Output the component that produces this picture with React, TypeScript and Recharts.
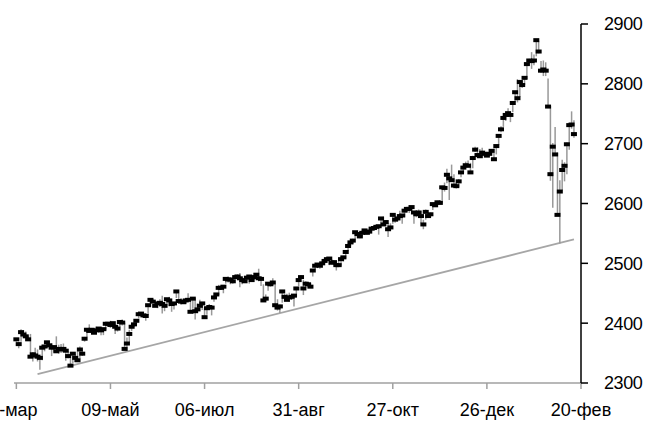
import { ComposedChart, XAxis, YAxis, Scatter, Line, ErrorBar } from "recharts";

// daily closes, 13-мар-2017 .. 20-фев-2018 (one trading day per index)
const closes = [
  // мар
  2373, 2365, 2385, 2381, 2378, 2373, 2344, 2348, 2346, 2344, 2342, 2359, 2361, 2368, 2363,
  // апр
  2359, 2360, 2353, 2357, 2356, 2357, 2354, 2345, 2329, 2349, 2342, 2338, 2356, 2349, 2374,
  2389, 2387, 2389, 2384,
  // май
  2388, 2391, 2388, 2390, 2399, 2399, 2397, 2400, 2394, 2391, 2402, 2401, 2357, 2366, 2382,
  2394, 2398, 2404, 2415, 2416, 2413, 2412,
  // июн
  2430, 2439, 2436, 2429, 2433, 2434, 2432, 2429, 2440, 2438, 2432, 2433, 2453, 2437, 2436,
  2435, 2438, 2439, 2419, 2441, 2420, 2423,
  // июл
  2429, 2433, 2410, 2425, 2427, 2426, 2443, 2448, 2459, 2459, 2461, 2474, 2473, 2473, 2470,
  2477, 2478, 2475, 2472, 2470,
  // авг
  2476, 2478, 2472, 2477, 2481, 2475, 2474, 2438, 2441, 2466, 2465, 2468, 2430, 2426, 2428,
  2453, 2444, 2439, 2443, 2444, 2446, 2458, 2472,
  // сен
  2477, 2458, 2466, 2465, 2461, 2488, 2496, 2498, 2496, 2500, 2504, 2507, 2508, 2501, 2502,
  2497, 2497, 2507, 2510, 2519,
  // окт
  2529, 2535, 2538, 2552, 2549, 2545, 2551, 2555, 2551, 2553, 2558, 2559, 2561, 2562, 2575,
  2565, 2569, 2557, 2560, 2581, 2573, 2575,
  // ноя
  2579, 2580, 2588, 2591, 2591, 2594, 2585, 2582, 2585, 2579, 2565, 2586, 2579, 2582, 2599,
  2597, 2602, 2601, 2627, 2626, 2648,
  // дек
  2642, 2639, 2630, 2629, 2637, 2652, 2660, 2664, 2663, 2652, 2676, 2690, 2681, 2679, 2685,
  2683, 2680, 2683, 2688, 2674,
  // янв
  2696, 2713, 2724, 2743, 2748, 2751, 2748, 2768, 2786, 2776, 2803, 2798, 2810, 2833, 2839,
  2838, 2839, 2873, 2854, 2822, 2824,
  // фев
  2822, 2762, 2649, 2695, 2682, 2581, 2620, 2656, 2663, 2699, 2731, 2732, 2716,
];

const highs = [
  2374, 2369, 2390, 2388, 2386, 2379, 2382, 2352, 2359, 2356, 2345, 2364, 2363, 2370, 2370,
  2366, 2361, 2378, 2364, 2365, 2366, 2355, 2353, 2348, 2349, 2348, 2353, 2361, 2356, 2377,
  2392, 2398, 2392, 2392,
  2394, 2393, 2390, 2391, 2399, 2401, 2404, 2400, 2396, 2392, 2404, 2406, 2401, 2376, 2389,
  2395, 2401, 2406, 2419, 2416, 2415, 2416,
  2430, 2440, 2440, 2436, 2435, 2440, 2446, 2430, 2441, 2444, 2434, 2433, 2454, 2450, 2442,
  2440, 2442, 2450, 2442, 2443, 2442, 2433,
  2439, 2435, 2424, 2427, 2432, 2429, 2446, 2449, 2464, 2463, 2461, 2475, 2478, 2473, 2473,
  2481, 2482, 2484, 2474, 2478,
  2479, 2480, 2477, 2480, 2481, 2491, 2474, 2465, 2448, 2468, 2469, 2475, 2465, 2440, 2431,
  2455, 2449, 2449, 2451, 2449, 2449, 2459, 2475,
  2480, 2472, 2470, 2469, 2467, 2489, 2497, 2498, 2498, 2500, 2508, 2508, 2509, 2507, 2503,
  2503, 2504, 2512, 2511, 2519,
  2529, 2535, 2541, 2553, 2550, 2552, 2555, 2555, 2555, 2558, 2560, 2560, 2562, 2562, 2575,
  2578, 2572, 2567, 2567, 2583, 2580, 2578,
  2588, 2581, 2588, 2593, 2597, 2594, 2587, 2584, 2590, 2580, 2573, 2590, 2583, 2585, 2601,
  2601, 2604, 2606, 2628, 2635, 2658,
  2651, 2665, 2649, 2634, 2641, 2652, 2660, 2670, 2672, 2668, 2680, 2695, 2694, 2691, 2693,
  2685, 2683, 2686, 2688, 2692,
  2696, 2714, 2729, 2743, 2749, 2759, 2751, 2768, 2788, 2808, 2807, 2806, 2810, 2833, 2842,
  2853, 2849, 2873, 2871, 2838, 2839,
  2836, 2809, 2763, 2701, 2728, 2685, 2639, 2673, 2669, 2702, 2732, 2754, 2739,
];

const lows = [
  2369, 2358, 2369, 2379, 2378, 2370, 2342, 2336, 2342, 2336, 2322, 2338, 2353, 2359, 2363,
  2345, 2351, 2351, 2349, 2350, 2352, 2337, 2341, 2329, 2333, 2335, 2335, 2341, 2345, 2369,
  2377, 2387, 2383, 2382,
  2385, 2386, 2380, 2380, 2389, 2394, 2392, 2393, 2382, 2386, 2394, 2396, 2357, 2353, 2368,
  2387, 2394, 2398, 2408, 2412, 2409, 2404,
  2414, 2428, 2434, 2428, 2425, 2427, 2416, 2420, 2431, 2428, 2419, 2423, 2442, 2437, 2431,
  2432, 2433, 2437, 2419, 2424, 2406, 2422,
  2429, 2422, 2408, 2414, 2422, 2413, 2436, 2442, 2447, 2457, 2450, 2466, 2468, 2465, 2466,
  2475, 2475, 2460, 2465, 2469,
  2471, 2466, 2469, 2472, 2475, 2470, 2462, 2438, 2438, 2454, 2461, 2464, 2430, 2421, 2417,
  2434, 2441, 2437, 2436, 2439, 2428, 2444, 2462,
  2474, 2447, 2459, 2460, 2459, 2478, 2490, 2492, 2491, 2493, 2500, 2503, 2497, 2499, 2497,
  2488, 2495, 2496, 2503, 2508,
  2520, 2529, 2532, 2540, 2544, 2542, 2545, 2548, 2548, 2552, 2555, 2555, 2558, 2548, 2567,
  2564, 2566, 2544, 2560, 2566, 2568, 2572,
  2575, 2566, 2577, 2586, 2584, 2586, 2566, 2577, 2576, 2567, 2557, 2573, 2578, 2578, 2589,
  2595, 2600, 2599, 2600, 2620, 2634,
  2606, 2639, 2628, 2625, 2627, 2644, 2651, 2660, 2663, 2652, 2659, 2686, 2681, 2676, 2682,
  2678, 2678, 2679, 2683, 2674,
  2682, 2698, 2719, 2728, 2738, 2748, 2736, 2753, 2770, 2769, 2778, 2793, 2798, 2808, 2831,
  2825, 2831, 2846, 2851, 2818, 2813,
  2813, 2760, 2638, 2593, 2681, 2581, 2533, 2622, 2637, 2649, 2690, 2725, 2710,
];

// support line drawn on the reference
const trendIdx = [9, 237];
const trendVals = [2315, 2540];

const xTickIdx = [0, 40, 80, 120, 160, 200, 240];
const xTickLabels = ["13-мар", "09-май", "06-июл", "31-авг", "27-окт", "26-дек", "20-фев"];
const yTicks = [2300, 2400, 2500, 2600, 2700, 2800, 2900];

const rows = closes.map((c, i) => ({
  i,
  c,
  e: [c - lows[i], highs[i] - c],
}));

const trend = trendIdx.map((i, k) => ({ i, c: trendVals[k] }));

// black dash for the close
const CloseMark = (props: any) => {
  const { cx, cy } = props;
  if (cx == null || cy == null) return null;
  return <rect x={cx - 3} y={cy - 2} width={6} height={4} fill="#000" />;
};

// first label sits half off the left edge in the original, like Excel clips it
const XTick = (props: any) => {
  const { x, y, payload } = props;
  const k = xTickIdx.indexOf(payload.value);
  const shift = k === 0 ? -8 : 0;
  return (
    <text x={x + shift} y={y} dy="0.71em" textAnchor="middle" fill="#000" fontSize={18}>
      {xTickLabels[k] ?? ""}
    </text>
  );
};

export default function App() {
  return (
    <div style={{ position: "absolute", left: 0, top: 0, width: 645, height: 421, background: "#fff" }}>
      <ComposedChart
        width={645}
        height={421}
        data={rows}
        margin={{ top: 24, right: 0, bottom: 0, left: 14 }}
        style={{ fontFamily: "'Liberation Sans', Arial, sans-serif" }}
      >
        <XAxis
          dataKey="i"
          type="number"
          domain={[-1, 240]}
          ticks={xTickIdx}
          interval={0}
          height={38}
          axisLine={{ stroke: "#a0a0a0", strokeWidth: 1.5 }}
          tickLine={{ stroke: "#a0a0a0", strokeWidth: 1.5 }}
          tickSize={6}
          tickMargin={14}
          tick={<XTick />}
        />
        <YAxis
          dataKey="c"
          orientation="right"
          type="number"
          domain={[2300, 2900]}
          ticks={yTicks}
          interval={0}
          width={64}
          axisLine={{ stroke: "#000", strokeWidth: 1.5 }}
          tickLine={{ stroke: "#000", strokeWidth: 1.5 }}
          tickSize={7}
          tickMargin={16}
          tick={{ fill: "#000", fontSize: 18, letterSpacing: -0.4 }}
        />
        <Line
          data={trend}
          dataKey="c"
          type="linear"
          stroke="#a6a6a6"
          strokeWidth={1.8}
          dot={false}
          activeDot={false}
          isAnimationActive={false}
        />
        <Scatter dataKey="c" shape={<CloseMark />} isAnimationActive={false}>
          <ErrorBar dataKey="e" direction="y" width={0} stroke="#999" strokeWidth={1.5} />
        </Scatter>
      </ComposedChart>
    </div>
  );
}
